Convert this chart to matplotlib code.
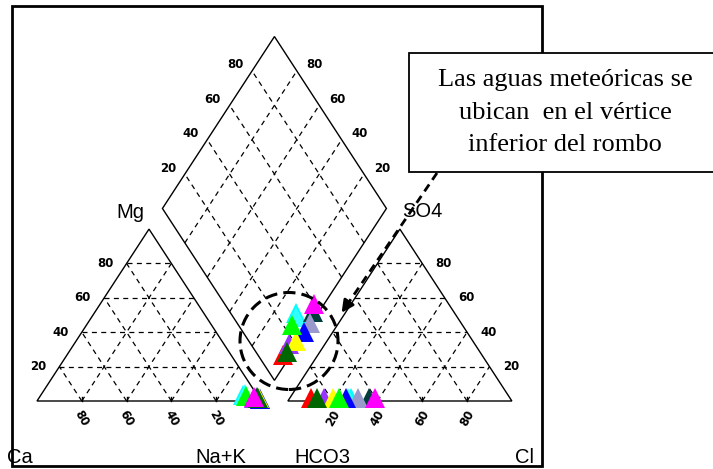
import numpy as np
import matplotlib.pyplot as plt
from matplotlib.patches import Ellipse, Rectangle, Polygon

# muestras (%): cationes y aniones
colores = ['#ff0000', '#9933ff', '#00ffff', '#33ffff', '#003c3c', '#9999cc',
           '#0000ff', '#ffff00', '#00ff00', '#006600', '#ff00ff']
ca   = [1.5, 2.0, 6.5, 5.0, 0.5, 0.0, 0.0, 0.0, 5.0, 0.5, 2.0]
mg   = [2.0, 2.0, 3.5, 4.0, 2.5, 1.0, 1.0, 2.0, 3.0, 2.0, 2.5]
nak  = [96.5, 96.0, 90.0, 91.0, 97.0, 99.0, 99.0, 98.0, 92.0, 97.5, 95.5]
so4  = [2.0, 2.0, 2.0, 2.0, 2.0, 2.0, 2.0, 2.0, 2.0, 2.0, 2.0]
cl   = [9.5, 15.0, 27.0, 26.0, 35.0, 30.5, 25.0, 19.0, 22.0, 12.0, 38.0]
hco3 = [88.5, 83.0, 71.0, 72.0, 63.0, 67.5, 73.0, 79.0, 76.0, 86.0, 60.0]

ticks = [20, 40, 60, 80]

h = np.sqrt(3) / 2
g = 0.12
# pixel mapping of the original screenshot
X0, Y0, SX, SY = 37.0, 401.0, 224.0, 198.5


def P(px, py):
    return (px - X0) / SX, (Y0 - py) / SY


def cat_xy(c, m, n):
    c, m, n = np.asarray(c) / 100, np.asarray(m) / 100, np.asarray(n) / 100
    return n + m / 2, m * h


def an_xy(cl_, s):
    cl_, s = np.asarray(cl_) / 100, np.asarray(s) / 100
    return 1 + g + cl_ + s / 2, s * h


def dia_xy(c, m, cl_, s):
    a = (np.asarray(c) + np.asarray(m)) / 100
    b = (np.asarray(cl_) + np.asarray(s)) / 100
    return 1 + g / 2 + 0.5 * (b - a), h * (g + a + b)


fig = plt.figure(figsize=(7.13, 4.69), dpi=100)
ax = fig.add_axes([0, 0, 1, 1])
ax.set_xlim(-X0 / SX, (713 - X0) / SX)
ax.set_ylim((Y0 - 469) / SY, Y0 / SY)
ax.axis('off')

grid_kw = dict(color='k', lw=0.9, ls=(0, (4, 3.5)), zorder=1)
edge_kw = dict(color='k', lw=1.0, zorder=2)


def triangle(x0):
    A = np.array([x0, 0]); B = np.array([x0 + 1, 0]); C = np.array([x0 + 0.5, h])
    ax.add_patch(Polygon([A, B, C], closed=True, fill=False, **edge_kw))
    for t in ticks:
        k = t / 100
        p, q = A + k * (C - A), B + k * (C - B)
        ax.plot([p[0], q[0]], [p[1], q[1]], **grid_kw)
        p, q = A + k * (B - A), C + k * (B - C)
        ax.plot([p[0], q[0]], [p[1], q[1]], **grid_kw)
        p, q = B + k * (A - B), C + k * (A - C)
        ax.plot([p[0], q[0]], [p[1], q[1]], **grid_kw)
        ax.plot([x0 + k, x0 + k], [0, 0.02], color='k', lw=1)
    return A, B, C


A1, B1, C1 = triangle(0)
A2, B2, C2 = triangle(1 + g)

# rombo
Bd = np.array([1 + g / 2, g * h]); Ld = Bd + [-0.5, h]
Rd = Bd + [0.5, h]; Td = Bd + [0, 2 * h]
ax.add_patch(Polygon([Bd, Rd, Td, Ld], closed=True, fill=False, **edge_kw))
for t in ticks:
    k = t / 100
    p = Bd + k * (Ld - Bd); q = p + (Rd - Bd)
    ax.plot([p[0], q[0]], [p[1], q[1]], **grid_kw)
    p = Bd + k * (Rd - Bd); q = p + (Ld - Bd)
    ax.plot([p[0], q[0]], [p[1], q[1]], **grid_kw)

# etiquetas de escala
tk = dict(fontsize=8.5, family='DejaVu Sans', fontweight='bold', ha='center', va='center')
for t in ticks:
    k = t / 100
    p = A1 + k * (C1 - A1)
    ax.text(p[0] - 0.095, p[1], str(t), **tk)
    p = B2 + k * (C2 - B2)
    ax.text(p[0] + 0.095, p[1], str(t), **tk)
    ax.text(1 - k, -0.085, str(t), rotation=-60, **tk)
    ax.text(1 + g + k, -0.085, str(t), rotation=60, **tk)
    p = Ld + k * (Td - Ld)
    ax.text(p[0] - 0.075, p[1] + 0.03, str(t), **tk)
    p = Rd + k * (Td - Rd)
    ax.text(p[0] + 0.08, p[1] + 0.03, str(t), **tk)

lab = dict(fontsize=14.5, family='Liberation Sans', ha='center', va='center')
ax.text(*P(130, 212), 'Mg', **lab)
ax.text(*P(422, 211), 'SO4', **lab)
ax.text(*P(7, 457), 'Ca', fontsize=14.5, family='Liberation Sans', ha='left', va='center')
ax.text(*P(221, 457), 'Na+K', **lab)
ax.text(*P(322, 457), 'HCO3', **lab)
ax.text(*P(524, 457), 'Cl', **lab)

# puntos
xc, yc = cat_xy(ca, mg, nak)
xa, ya = an_xy(cl, so4)
xd, yd = dia_xy(ca, mg, cl, so4)
for i, col in enumerate(colores):
    for x, y in ((xc[i], yc[i]), (xa[i], ya[i]), (xd[i], yd[i])):
        ax.plot(x, y, marker='^', ms=14, color=col, mew=0, ls='none', zorder=5)

# circulo punteado
ex, ey = P(289, 341)
ax.add_patch(Ellipse((ex, ey), 98 / SX, 97 / SY, fill=False, ec='k', lw=2.2,
                     ls=(0, (4, 2)), zorder=6))

# marco
fx, fy = P(12, 466)
ax.add_patch(Rectangle((fx, fy), 530 / SX, 460 / SY, fill=False, ec='k', lw=2, zorder=7))

# flecha
sx, sy = P(437, 173)
mx, my = P(349, 302)
tx, ty = P(340, 315)
ax.plot([sx, mx], [sy, my], color='k', lw=2, ls=(0, (3, 2)), zorder=8)
ax.annotate('', xy=(tx, ty), xytext=(mx, my),
            arrowprops=dict(arrowstyle='-|>', color='k', lw=2, mutation_scale=18),
            zorder=8)

# cuadro de texto
bx, by = P(409, 172)
ax.add_patch(Rectangle((bx, by), 310 / SX, 119 / SY, fc='white', ec='k', lw=1.3, zorder=9))
lineas = ['Las aguas meteóricas se', 'ubican  en el vértice', 'inferior del rombo']
for texto, py in zip(lineas, [80, 113, 145]):
    ax.text(*P(565, py), texto, fontsize=19, family='Liberation Serif',
            ha='center', va='center', zorder=10)

plt.savefig('out.png', dpi=100)
